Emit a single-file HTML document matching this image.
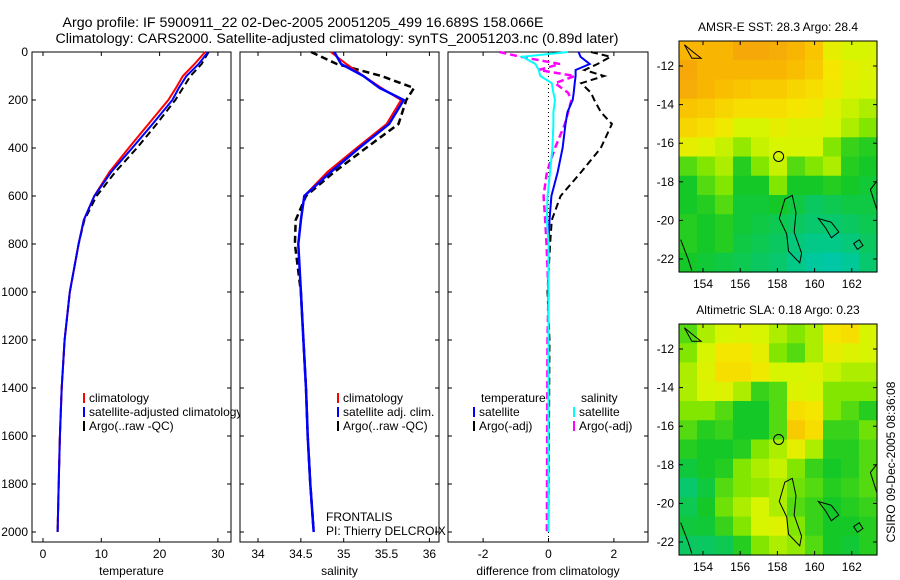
<!DOCTYPE html>
<html><head><meta charset="utf-8"><style>
body{margin:0;background:#fff;}
svg{display:block;font-family:"Liberation Sans",sans-serif;}
text{font-size:12px;fill:#000;}
</style></head><body>
<svg id="fig" width="900" height="580" viewBox="0 0 900 580">
<text x="303" y="27" text-anchor="middle" style="font-size:14.2px">Argo profile: IF 5900911_22 02-Dec-2005 20051205_499 16.689S 158.066E</text>
<text x="337" y="43" text-anchor="middle" style="font-size:14.2px">Climatology: CARS2000. Satellite-adjusted climatology: synTS_20051203.nc (0.89d later)</text>
<defs><clipPath id="clipA"><rect x="679" y="41" width="198" height="231"/></clipPath><clipPath id="clipB"><rect x="679" y="324" width="198" height="231"/></clipPath></defs>
<g id="plots"></g>
</svg>
<script>
const depths=[0,50,100,150,200,300,400,500,600,700,800,1000,1200,1400,1600,1800,2000];
const tempClim=[27.8,26,24,22.8,21.5,18.1,14.7,11.4,8.8,7.0,6.1,4.6,3.7,3.2,2.9,2.7,2.5];
const tempSat=[28.3,26.7,24.6,23.3,22.2,18.8,15.3,11.7,8.8,7.0,6.1,4.6,3.7,3.2,2.9,2.7,2.5];
const tempArgo=[28.4,27.2,25.3,24.0,22.7,19.5,16.1,12.4,9.2,7.1,6.1,4.6,3.7,3.2,2.9,2.7,2.5];
const salClim=[34.85,35.03,35.23,35.44,35.67,35.5,35.15,34.81,34.54,34.5,34.47,34.5,34.53,34.56,34.58,34.61,34.65];
const salSat=[34.89,34.97,35.23,35.42,35.7,35.53,35.18,34.85,34.54,34.5,34.47,34.5,34.53,34.56,34.58,34.61,34.65];
const salArgo=[34.62,34.92,35.44,35.82,35.73,35.64,35.26,34.89,34.56,34.44,34.43,34.5,34.53,34.56,34.58,34.61,34.65];
const diffDepths=[0,20,50,75,100,130,170,200,250,300,400,500,600,700,800,1000,1200,2000];
const dTempSat=[0.92,0.98,1.26,0.83,0.83,0.8,0.77,0.74,0.58,0.52,0.43,0.28,0.09,0.03,0,0,0,0];
const dTempArgo=[1.3,1.9,1.5,1.1,1.7,1.0,1.3,1.4,1.6,1.94,1.6,1.0,0.37,0.1,0.05,-0.03,0.03,0];
const dSalSat=[0.6,-0.8,-0.4,-0.3,-0.25,0.1,0.15,0.2,0.15,0.15,0.12,0.05,-0.03,-0.05,0,0,0,0];
const dSalArgo=[-1.5,-0.85,0.35,-0.3,0.8,0.2,0.6,0.7,0.6,0.5,0.2,-0.05,-0.15,-0.1,-0.06,0,-0.03,-0.05];
const depthTicks=[0,200,400,600,800,1000,1200,1400,1600,1800,2000];
const tempTicks=[0,10,20,30];
const salTicks=["34","34.5","35","35.5","36"];
const diffTicks=[-2,0,2];
const lonTicks=[154,156,158,160,162];
const latTicks=[-12,-14,-16,-18,-20,-22];
const sstGrid=[
[0.85,0.85,0.85,0.9,0.9,0.88,0.85,0.8,0.65,0.6,0.6],
[0.9,0.85,0.85,0.85,0.85,0.85,0.82,0.78,0.7,0.65,0.62],
[0.88,0.85,0.82,0.8,0.78,0.78,0.75,0.72,0.68,0.62,0.6],
[0.8,0.78,0.75,0.72,0.72,0.72,0.7,0.68,0.62,0.58,0.55],
[0.75,0.72,0.68,0.6,0.6,0.65,0.62,0.62,0.6,0.55,0.5],
[0.65,0.62,0.58,0.52,0.58,0.6,0.6,0.6,0.5,0.42,0.4],
[0.45,0.5,0.55,0.4,0.5,0.58,0.45,0.5,0.55,0.4,0.38],
[0.38,0.45,0.5,0.38,0.38,0.5,0.38,0.38,0.4,0.38,0.36],
[0.38,0.4,0.45,0.36,0.36,0.38,0.34,0.3,0.32,0.34,0.34],
[0.4,0.38,0.4,0.36,0.34,0.32,0.3,0.28,0.28,0.3,0.32],
[0.4,0.38,0.4,0.34,0.32,0.3,0.26,0.24,0.24,0.26,0.3],
[0.38,0.36,0.34,0.32,0.3,0.28,0.24,0.2,0.18,0.22,0.28]];
const slaGrid=[
[0.45,0.55,0.6,0.62,0.6,0.55,0.5,0.55,0.7,0.72,0.6],
[0.5,0.6,0.7,0.7,0.65,0.5,0.45,0.55,0.65,0.62,0.6],
[0.55,0.62,0.72,0.72,0.68,0.6,0.6,0.62,0.58,0.55,0.55],
[0.55,0.6,0.62,0.55,0.42,0.45,0.62,0.6,0.5,0.5,0.5],
[0.5,0.5,0.45,0.38,0.38,0.45,0.72,0.7,0.5,0.45,0.4],
[0.45,0.4,0.42,0.38,0.38,0.45,0.78,0.72,0.42,0.42,0.48],
[0.4,0.38,0.38,0.4,0.5,0.55,0.65,0.55,0.4,0.4,0.45],
[0.35,0.38,0.4,0.5,0.55,0.58,0.5,0.42,0.38,0.4,0.45],
[0.28,0.35,0.45,0.5,0.52,0.55,0.48,0.45,0.4,0.42,0.45],
[0.32,0.38,0.48,0.55,0.6,0.55,0.45,0.42,0.38,0.4,0.42],
[0.35,0.36,0.42,0.5,0.6,0.62,0.5,0.42,0.38,0.38,0.4],
[0.3,0.3,0.32,0.4,0.5,0.55,0.52,0.45,0.38,0.36,0.4]];

const NS='http://www.w3.org/2000/svg';
const root=document.getElementById('plots');
function mk(tag,attrs,parent){const e=document.createElementNS(NS,tag);for(const k in attrs)e.setAttribute(k,attrs[k]);(parent||root).appendChild(e);return e;}
function txt(x,y,s,anchor,parent,size){const t=mk('text',{x:x,y:y,'text-anchor':anchor||'start'},parent);if(size)t.style.fontSize=size+'px';t.textContent=s;return t;}
const yD=d=>52+d*0.24;
const yTop=52,yBot=542;
function panel(x0,x1,name,xs,ticks,label,showDepth){
  const g=mk('g',{});
  
  
  mk('rect',{x:x0,y:yTop,width:x1-x0,height:yBot-yTop,fill:'#fff',stroke:'#000','stroke-width':1},g);
  depthTicks.forEach(d=>{const y=yD(d);mk('line',{x1:x0,x2:x0+4,y1:y,y2:y,stroke:'#000'},g);mk('line',{x1:x1-4,x2:x1,y1:y,y2:y,stroke:'#000'},g);
    if(showDepth){const t=txt(x0-4,y+4,String(d),'end',g);}});
  ticks.forEach(v=>{const x=xs(+v);mk('line',{x1:x,x2:x,y1:yBot,y2:yBot-4,stroke:'#000'},g);mk('line',{x1:x,x2:x,y1:yTop,y2:yTop+4,stroke:'#000'},g);
    const t=txt(x,558,String(v),'middle',g);});
  const l=txt((x0+x1)/2,575,label,'middle',g);
  
  
  return g;
}
function series(g,xs,vals,ds,color,w,dash,name){
  const pts=vals.map((v,i)=>xs(v).toFixed(1)+','+yD(ds[i]).toFixed(1)).join(' ');
  const p=mk('polyline',{points:pts,fill:'none',stroke:color,'stroke-width':w},g);
  if(dash)p.setAttribute('stroke-dasharray',dash);
  
  
}
function legend(g,x,y,items){
  items.forEach((it,i)=>{const yy=y+i*14;
    mk('rect',{x:x,y:yy-9,width:2,height:10,fill:it[0]},g);
    const t=txt(x+6,yy,it[1],'start',g,12);
    
    });
}
const xT=v=>43+v*5.83;
const g1=panel(32,231,'temperature-panel',xT,tempTicks,'temperature',true);
series(g1,xT,tempArgo,depths,'#000',2,'7,4','argo-temperature-line');
series(g1,xT,tempClim,depths,'#f00',2,null,'climatology-temperature-line');
series(g1,xT,tempSat,depths,'#00f',2,null,'satellite-temperature-line');
legend(g1,83,402,[['#f00','climatology'],['#00f','satellite-adjusted climatology'],['#000','Argo(..raw -QC)']]);
const xS=v=>258+(v-34)*85.7;
const g2=panel(240,439,'salinity-panel',xS,salTicks,'salinity',false);
series(g2,xS,salArgo,depths,'#000',2.5,'7,4','argo-salinity-line');
series(g2,xS,salClim,depths,'#f00',2,null,'climatology-salinity-line');
series(g2,xS,salSat,depths,'#00f',2.5,null,'satellite-salinity-line');
legend(g2,337,402,[['#f00','climatology'],['#00f','satellite adj. clim.'],['#000','Argo(..raw -QC)']]);
const f1=txt(326,521,'FRONTALIS','start',g2,12);


const f2=txt(326,535,'PI: Thierry DELCROIX','start',g2,12);


const xDf=v=>548.5+v*32.7;
const g3=panel(448,648,'difference-panel',xDf,diffTicks,'difference from climatology',false);
mk('line',{x1:xDf(0),x2:xDf(0),y1:yTop,y2:yBot,stroke:'#000','stroke-dasharray':'1,3'},g3);
series(g3,xDf,dTempArgo,diffDepths,'#000',2,'7,4','argo-temperature-diff-line');
series(g3,xDf,dSalArgo,diffDepths,'#f0f',2.5,'7,4','argo-salinity-diff-line');
series(g3,xDf,dTempSat,diffDepths,'#00f',2,null,'satellite-temperature-diff-line');
series(g3,xDf,dSalSat,diffDepths,'#0ff',2,null,'satellite-salinity-diff-line');
const lt=txt(481,402,'temperature','start',g3,12);


const ls=txt(581,402,'salinity','start',g3,12);


legend(g3,473,416,[['#00f','satellite'],['#000','Argo(-adj)']]);
legend(g3,573,416,[['#0ff','satellite'],['#f0f','Argo(-adj)']]);

const stops=[[0,[0,195,235]],[0.22,[0,200,150]],[0.38,[20,200,40]],[0.5,[130,230,0]],[0.6,[215,245,0]],[0.7,[245,230,0]],[0.82,[250,190,0]],[1,[240,140,20]]];
function cmap(v){for(let i=1;i<stops.length;i++){if(v<=stops[i][0]){const a=stops[i-1],b=stops[i],t=(v-a[0])/(b[0]-a[0]);const c=a[1].map((q,j)=>Math.round(q+(b[1][j]-q)*t));return 'rgb('+c+')';}}return 'rgb(240,140,20)';}
function map(y0,grid,title,name,clip){
  const g=mk('g',{});
  
  
  const x0=679,w=198,h=231;
  const lonX=l=>703+(l-154)*18.6;
  const latY=l=>y0+25+(-12-l)*19.3;
  const cw=w/grid[0].length,ch=h/grid.length;
  grid.forEach((row,r)=>row.forEach((v,c)=>{
    const cell=mk('rect',{x:(x0+c*cw).toFixed(2),y:(y0+r*ch).toFixed(2),width:(cw+0.6).toFixed(2),height:(ch+0.6).toFixed(2),fill:cmap(v)},g);
    
    
  }));
  const cg=mk('g',{'clip-path':'url(#'+clip+')'},g);
  mk('path',{d:`M${lonX(158.4)} ${latY(-18.9)} L${lonX(158.8)} ${latY(-18.7)} L${lonX(159)} ${latY(-19.6)} L${lonX(158.9)} ${latY(-20.6)} L${lonX(159.3)} ${latY(-21.7)} L${lonX(159.2)} ${latY(-22.2)} L${lonX(158.6)} ${latY(-21.6)} L${lonX(158.5)} ${latY(-20.7)} L${lonX(158.1)} ${latY(-19.9)} Z`,fill:'none',stroke:'#000','stroke-width':1},cg);
  mk('path',{d:`M${lonX(160.2)} ${latY(-19.9)} L${lonX(160.9)} ${latY(-20.1)} L${lonX(161.3)} ${latY(-20.6)} L${lonX(160.9)} ${latY(-20.9)} L${lonX(160.6)} ${latY(-20.4)} Z M${lonX(162.1)} ${latY(-21.2)} L${lonX(162.4)} ${latY(-21)} L${lonX(162.6)} ${latY(-21.3)} L${lonX(162.3)} ${latY(-21.5)} Z`,fill:'none',stroke:'#000','stroke-width':1},cg);
  mk('path',{d:`M${lonX(163.4)} ${latY(-17.9)} L${lonX(163)} ${latY(-18.4)} L${lonX(163.4)} ${latY(-19.6)} M${lonX(152.8)} ${latY(-21)} L${lonX(153.2)} ${latY(-22)} L${lonX(153.4)} ${latY(-22.6)} M${lonX(153)} ${latY(-10.9)} L${lonX(153.5)} ${latY(-11.3)} L${lonX(153.9)} ${latY(-11.6)} L${lonX(153.4)} ${latY(-11.6)} Z`,fill:'none',stroke:'#000','stroke-width':1},cg);
  mk('rect',{x:x0,y:y0,width:w,height:h,fill:'none',stroke:'#000'},g);
  lonTicks.forEach(l=>{const x=lonX(l);mk('line',{x1:x,x2:x,y1:y0+h,y2:y0+h-4,stroke:'#000'},g);mk('line',{x1:x,x2:x,y1:y0,y2:y0+4,stroke:'#000'},g);
    const t=txt(x,y0+h+16,String(l),'middle',g);});
  latTicks.forEach(l=>{const y=latY(l);mk('line',{x1:x0,x2:x0+4,y1:y,y2:y,stroke:'#000'},g);mk('line',{x1:x0+w-4,x2:x0+w,y1:y,y2:y,stroke:'#000'},g);
    const t=txt(x0-5,y+4,String(l),'end',g);});
  const m=mk('circle',{cx:lonX(158.066),cy:latY(-16.689),r:5,fill:'none',stroke:'#000','stroke-width':1},g);
  
  
  const tt=txt(x0+w/2,y0-10,title,'middle',g);
  
  
}
map(41,sstGrid,'AMSR-E SST: 28.3 Argo: 28.4','sst-map','clipA');
map(324,slaGrid,'Altimetric SLA: 0.18 Argo: 0.23','sla-map','clipB');
const cs=txt(0,0,'CSIRO 09-Dec-2005 08:36:08','middle');
cs.setAttribute('transform','translate(895,462) rotate(-90)');


</script>
</body></html>
